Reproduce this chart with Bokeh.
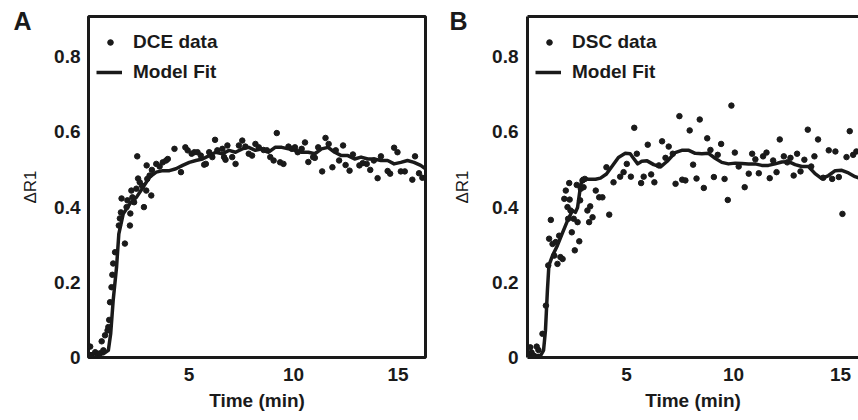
from bokeh.plotting import figure
from bokeh.layouts import row
from bokeh.models import (Range1d, Legend, LegendItem, Label, LinearAxis,
                          FixedTicker, CustomJSTickFormatter)
from bokeh.embed import file_html
from bokeh.resources import INLINE

# ---------------- data ----------------
dce_time = [0.28, 0.34, 0.52, 0.63, 0.75, 0.83, 0.91, 0.99, 1.11, 1.15, 1.19, 1.23,
            1.30, 1.34, 1.38, 1.47, 1.65, 1.70, 1.75, 1.78, 1.94, 2.02, 2.06, 2.18,
            2.20, 2.25, 2.30, 2.38, 2.49, 2.53, 2.57, 2.65, 2.76, 2.85, 2.96, 2.98,
            3.01, 3.12, 3.20, 3.23, 3.44, 3.60, 3.75, 3.91, 3.99, 4.31, 4.62, 4.83,
            4.94, 5.13, 5.26, 5.41, 5.57, 5.73, 5.81, 5.97, 6.12, 6.25, 6.36, 6.60,
            6.68, 6.75, 6.84, 7.07, 7.23, 7.39, 7.55, 7.70, 7.86, 8.02, 8.18, 8.34,
            8.57, 8.73, 8.89, 9.05, 9.20, 9.36, 9.52, 9.76, 9.92, 10.07, 10.20, 10.39,
            10.55, 10.71, 10.94, 11.02, 11.18, 11.37, 11.53, 11.68, 11.86, 12.02, 12.18,
            12.37, 12.49, 12.68, 12.84, 13.15, 13.31, 13.50, 13.67, 13.84, 14.02, 14.18,
            14.50, 14.62, 14.81, 14.97, 15.13, 15.32, 15.68, 15.81, 16.00, 16.16]
dce_r1 = [0.029, 0.005, 0.014, 0.008, 0.011, 0.043, 0.019, 0.059, 0.072, 0.081, 0.100, 0.147,
          0.187, 0.220, 0.250, 0.280, 0.351, 0.370, 0.386, 0.423, 0.303, 0.400, 0.418, 0.351,
          0.383, 0.444, 0.426, 0.413, 0.449, 0.535, 0.476, 0.466, 0.457, 0.400, 0.444, 0.511,
          0.475, 0.484, 0.431, 0.499, 0.515, 0.508, 0.519, 0.524, 0.528, 0.555, 0.493, 0.559,
          0.551, 0.542, 0.546, 0.546, 0.537, 0.513, 0.515, 0.546, 0.533, 0.579, 0.551, 0.555,
          0.533, 0.526, 0.564, 0.533, 0.515, 0.564, 0.577, 0.561, 0.542, 0.537, 0.568, 0.559,
          0.552, 0.551, 0.533, 0.524, 0.597, 0.519, 0.515, 0.561, 0.555, 0.559, 0.546, 0.555,
          0.572, 0.520, 0.533, 0.531, 0.559, 0.495, 0.584, 0.568, 0.506, 0.551, 0.524,
          0.564, 0.512, 0.497, 0.540, 0.511, 0.517, 0.515, 0.499, 0.524, 0.477, 0.535,
          0.496, 0.489, 0.558, 0.546, 0.495, 0.495, 0.473, 0.535, 0.490, 0.478]

fit_a_time = [0.20, 0.91, 1.15, 1.26, 1.38, 1.54, 1.65, 1.86, 2.18, 2.49, 2.81, 3.12, 3.44,
              3.75, 4.07, 4.38, 4.70, 5.02, 5.33, 5.65, 5.97, 6.28, 6.60, 6.92, 7.23, 7.55,
              7.86, 8.18, 8.49, 8.81, 9.12, 9.44, 9.76, 10.07, 10.39, 10.71, 11.02, 11.34,
              11.65, 11.97, 12.29, 12.60, 12.92, 13.23, 13.55, 13.86, 14.18, 14.50, 14.81,
              15.13, 15.45, 15.76, 16.08, 16.31]
fit_a_r1 = [0.010, 0.010, 0.019, 0.063, 0.152, 0.240, 0.329, 0.382, 0.409, 0.426, 0.453, 0.480,
            0.493, 0.497, 0.497, 0.502, 0.511, 0.519, 0.524, 0.528, 0.537, 0.546, 0.542, 0.551,
            0.546, 0.555, 0.559, 0.551, 0.555, 0.546, 0.559, 0.559, 0.555, 0.551, 0.546, 0.546,
            0.542, 0.555, 0.559, 0.546, 0.537, 0.537, 0.528, 0.533, 0.528, 0.528, 0.524, 0.524,
            0.515, 0.519, 0.524, 0.519, 0.511, 0.502]

dsc_time = [0.50, 0.56, 0.66, 0.80, 0.88, 1.07, 1.23, 1.34, 1.38, 1.46, 1.54, 1.62, 1.69,
            1.77, 1.85, 1.91, 2.01, 2.09, 2.16, 2.24, 2.27, 2.32, 2.34, 2.38, 2.44, 2.53,
            2.58, 2.67, 2.71, 2.79, 2.83, 2.86, 2.94, 2.99, 3.05, 3.17, 3.25, 3.30, 3.41,
            3.56, 3.72, 3.87, 4.06, 4.19, 4.39, 4.70, 4.86, 5.01, 5.20, 5.36, 5.48, 5.68,
            5.80, 5.99, 6.15, 6.30, 6.51, 6.66, 6.82, 6.97, 7.16, 7.29, 7.47, 7.60, 7.75,
            7.95, 8.11, 8.27, 8.42, 8.61, 8.77, 8.92, 9.08, 9.26, 9.42, 9.58, 9.73, 9.90,
            10.06, 10.24, 10.52, 10.71, 10.87, 11.02, 11.18, 11.38, 11.54, 11.69, 11.85,
            12.01, 12.16, 12.35, 12.51, 12.66, 12.81, 12.97, 13.13, 13.31, 13.47, 13.63,
            13.78, 13.95, 14.19, 14.45, 14.61, 14.76, 14.92, 15.09, 15.28, 15.43, 15.59, 15.74]
dsc_r1 = [0.027, 0.013, 0.005, 0.029, 0.020, 0.063, 0.138, 0.245, 0.316, 0.366, 0.302, 0.271, 0.307,
          0.249, 0.324, 0.267, 0.262, 0.422, 0.444, 0.400, 0.369, 0.464, 0.420, 0.391, 0.333, 0.369,
          0.285, 0.459, 0.360, 0.309, 0.418, 0.449, 0.471, 0.453, 0.475, 0.391, 0.360, 0.402, 0.373,
          0.444, 0.426, 0.426, 0.506, 0.380, 0.466, 0.481, 0.493, 0.515, 0.481, 0.611, 0.542, 0.464,
          0.481, 0.566, 0.487, 0.466, 0.511, 0.575, 0.531, 0.561, 0.542, 0.462, 0.642, 0.473, 0.471,
          0.604, 0.513, 0.476, 0.633, 0.451, 0.583, 0.552, 0.480, 0.539, 0.568, 0.475, 0.419, 0.670,
          0.545, 0.508, 0.453, 0.489, 0.542, 0.527, 0.490, 0.535, 0.545, 0.477, 0.524,
          0.493, 0.580, 0.535, 0.519, 0.531, 0.484, 0.542, 0.495, 0.526, 0.606, 0.508,
          0.535, 0.580, 0.478, 0.551, 0.475, 0.548, 0.480, 0.382, 0.533, 0.602, 0.539, 0.548]

fit_b_time = [0.37, 0.98, 1.12, 1.21, 1.30, 1.37, 1.54, 1.77, 2.01, 2.24, 2.47, 2.61, 2.71,
              2.85, 2.94, 3.22, 3.55, 3.78, 4.06, 4.34, 4.62, 4.94, 5.17, 5.35, 5.52, 5.71,
              5.96, 6.27, 6.59, 6.90, 7.27, 7.58, 7.91, 8.21, 8.52, 8.83, 9.14, 9.45, 9.76,
              10.08, 10.39, 10.70, 11.01, 11.32, 11.63, 11.94, 12.25, 12.57, 12.88, 13.19,
              13.50, 13.81, 14.12, 14.44, 14.75, 15.06, 15.37, 15.68, 15.84]
fit_b_r1 = [0.005, 0.005, 0.019, 0.072, 0.178, 0.245, 0.271, 0.298, 0.332, 0.364, 0.391, 0.386,
            0.399, 0.457, 0.476, 0.474, 0.474, 0.477, 0.488, 0.510, 0.532, 0.543, 0.542, 0.528,
            0.515, 0.522, 0.523, 0.513, 0.507, 0.522, 0.545, 0.551, 0.551, 0.543, 0.542, 0.543,
            0.530, 0.519, 0.515, 0.517, 0.516, 0.515, 0.515, 0.511, 0.511, 0.515, 0.520, 0.521,
            0.513, 0.508, 0.508, 0.489, 0.476, 0.484, 0.497, 0.498, 0.491, 0.481, 0.478]

x_ticks = [5, 10, 15]
y_ticks = [0, 0.2, 0.4, 0.6, 0.8]

# ---------------- styling ----------------
FONT = "Liberation Sans"
INK = "#1a1a1a"


def make_panel(letter, t, r, ft, fr, data_label, width, border_left, border_right,
               x_start, x_end, letter_x, y_standoff, ylabel_standoff, boxed):
    p = figure(width=width, height=420, output_backend="svg", toolbar_location=None,
               x_range=Range1d(x_start, x_end), y_range=Range1d(0, 0.907),
               min_border_left=border_left, min_border_right=border_right,
               min_border_top=16, min_border_bottom=63,
               background_fill_color="white", border_fill_color="white")
    p.xgrid.visible = False
    p.ygrid.visible = False

    for ax in (p.xaxis[0], p.yaxis[0]):
        ax.major_tick_line_color = None
        ax.minor_tick_line_color = None
        ax.major_tick_out = 0
        ax.major_tick_in = 0
        ax.minor_tick_out = 0
        ax.minor_tick_in = 0
        ax.major_label_text_font = FONT
        ax.major_label_text_font_style = "bold"
        ax.major_label_text_font_size = "19px"
        ax.major_label_text_color = INK
        ax.axis_label_text_color = INK
        ax.axis_label_text_font = FONT
        if boxed:
            ax.axis_line_color = None
        else:
            ax.axis_line_color = INK
            ax.axis_line_width = 3

    p.xaxis.major_label_standoff = 10
    p.yaxis.major_label_standoff = y_standoff
    p.xaxis.ticker = FixedTicker(ticks=x_ticks)
    p.yaxis.ticker = FixedTicker(ticks=y_ticks)
    p.yaxis.formatter = CustomJSTickFormatter(
        code="return tick == 0 ? '0' : tick.toFixed(1);")

    p.xaxis.axis_label = "Time (min)"
    p.xaxis.axis_label_text_font_style = "bold"
    p.xaxis.axis_label_text_font_size = "19px"
    p.xaxis.axis_label_standoff = 6

    p.yaxis.axis_label = "\u0394R1"
    p.yaxis.axis_label_text_font_style = "normal"
    p.yaxis.axis_label_text_font_size = "17px"
    p.yaxis.axis_label_standoff = ylabel_standoff

    if boxed:
        p.outline_line_color = INK
        p.outline_line_width = 3
        p.outline_line_alpha = 1
    else:
        p.outline_line_color = None
        top = LinearAxis(ticker=FixedTicker(ticks=[]), axis_line_color=INK,
                         axis_line_width=3, major_tick_line_color=None,
                         minor_tick_line_color=None, major_tick_out=0,
                         major_tick_in=0, minor_tick_out=0, minor_tick_in=0)
        p.add_layout(top, "above")

    ln = p.line(ft, fr, line_color=INK, line_width=3.5, line_join="round")
    sc = p.scatter(t, r, size=5.5, fill_color=INK, line_color=INK)

    common = dict(location="top_left", border_line_color=None, background_fill_alpha=0,
                  label_text_font=FONT, label_text_font_style="bold",
                  label_text_font_size="19px", label_text_color=INK)
    leg_dots = Legend(items=[LegendItem(label=data_label, renderers=[sc])],
                      margin=15, glyph_width=14, glyph_height=14, label_height=20,
                      label_standoff=16, **common)
    leg_line = Legend(items=[LegendItem(label="Model Fit", renderers=[ln])],
                      margin=8, glyph_width=26, glyph_height=96, label_height=96,
                      label_standoff=11, **common)
    p.add_layout(leg_dots)
    p.add_layout(leg_line)

    p.add_layout(Label(x=letter_x, y=0.896, text=letter, text_font=FONT,
                       text_font_style="bold", text_font_size="25px", text_color=INK,
                       text_baseline="alphabetic", text_align="left"), "left")
    return p


pa = make_panel("A", dce_time, dce_r1, fit_a_time, fit_a_r1, "DCE data",
                width=427, border_left=85, border_right=2,
                x_start=0.2, x_end=16.31, letter_x=-3.38,
                y_standoff=8, ylabel_standoff=11, boxed=True)
pb = make_panel("B", dsc_time, dsc_r1, fit_b_time, fit_b_r1, "DSC data",
                width=431, border_left=100, border_right=0,
                x_start=0.37, x_end=15.84, letter_x=-3.27,
                y_standoff=9, ylabel_standoff=17, boxed=False)

layout = row(pa, pb)
open("out.html", "w").write(file_html(layout, INLINE))
